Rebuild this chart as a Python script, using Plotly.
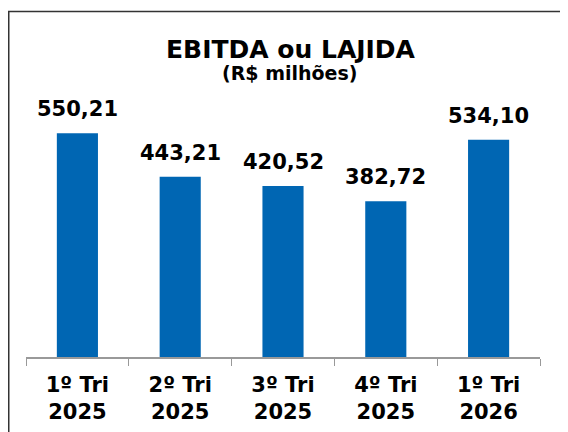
import plotly.graph_objects as go

categories = ["1º Tri<br>2025", "2º Tri<br>2025", "3º Tri<br>2025", "4º Tri<br>2025", "1º Tri<br>2026"]
ebitda = [550.21, 443.21, 420.52, 382.72, 534.10]

BLUE = "#0066B3"
FONT = "DejaVu Sans"

# plot area in figure pixels (page is offset by the 8px body margin)
PLOT_L, PLOT_R, PLOT_T, PLOT_B = 18, 532, 105, 349
PW, PH = PLOT_R - PLOT_L, PLOT_B - PLOT_T


def px(x):
    return (x - PLOT_L) / PW


def py(y):
    return (PLOT_B - y) / PH


fig = go.Figure()
fig.add_trace(go.Bar(
    x=categories,
    y=ebitda,
    marker=dict(color=BLUE, line=dict(width=0)),
    cliponaxis=False,
))

for c, v in zip(categories, ebitda):
    fig.add_annotation(x=c, y=v, text="<b>" + f"{v:.2f}".replace(".", ",") + "</b>",
                       showarrow=False, yanchor="bottom", yshift=10,
                       font=dict(family=FONT, size=21, color="black"))

fig.update_layout(
    width=568,
    height=432,
    margin=dict(l=PLOT_L, r=568 - PLOT_R, t=PLOT_T, b=432 - PLOT_B),
    paper_bgcolor="white",
    plot_bgcolor="white",
    bargap=0.6,
    showlegend=False,
    font=dict(family=FONT, color="black"),
    xaxis=dict(
        showline=True, linecolor="#999999", linewidth=1.5,
        ticks="outside", tickson="boundaries", ticklen=7, tickcolor="#999999",
        tickfont=dict(family=FONT, size=21, color="black"),
        tickvals=categories,
        ticktext=["<b>" + c + "</b>" for c in categories],
        ticklabelstandoff=8,
        showgrid=False, automargin=False,
    ),
    yaxis=dict(range=[0, 600], visible=False, showgrid=False, automargin=False),
)

# title and subtitle
fig.add_annotation(text="<b>EBITDA ou LAJIDA</b>", xref="paper", yref="paper",
                   x=px(283), y=py(41.5), showarrow=False, yanchor="middle",
                   font=dict(family=FONT, size=25, color="black"))
fig.add_annotation(text="<b>(R$ milhões)</b>", xref="paper", yref="paper",
                   x=px(281), y=py(65), showarrow=False, yanchor="middle",
                   font=dict(family=FONT, size=19, color="black"))

# chart frame (extends past right and bottom edges)
fig.add_shape(type="rect", xref="paper", yref="paper",
              x0=px(0.75), x1=1.3, y0=-1.0, y1=py(3.5),
              line=dict(color="#333333", width=1.5), layer="below")

fig.write_html("out.html")
